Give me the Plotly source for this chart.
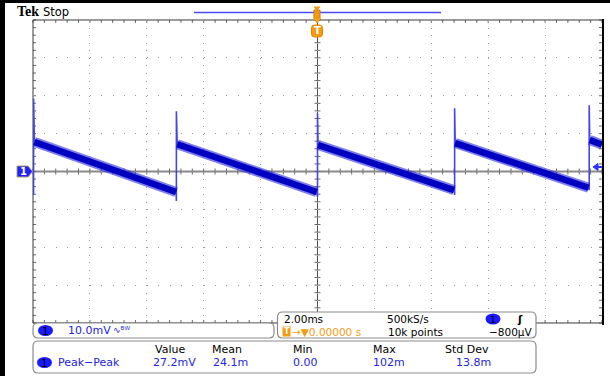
import plotly.graph_objects as go

W, H = 610, 376

# ---------------- data ----------------
# time in ms (2 ms/div, trigger at 0), voltage in mV (10 mV/div)
ramp_start_ms = [-9.95, -4.93, 0.02, 4.84, 9.57]
ramp_start_mV = [7.8, 7.2, 7.0, 7.5, 8.3]
ramp_end_ms = [-4.97, -0.03, 4.80, 9.53, 10.0]
ramp_end_mV = [-5.4, -5.4, -4.9, -4.3, 7.1]
edge_ms = [-9.98, -4.96, 0.0, 4.82, 9.55]
edge_low_mV = [-6.2, -7.8, -6.7, -6.2, -4.9]
edge_high_mV = [19.3, 15.9, 15.4, 16.7, 17.5]
pre_ms, pre_mV = -10.0, -5.5

meas_headers = ["Value", "Mean", "Min", "Max", "Std Dev"]
meas_values = ["27.2mV", "24.1m", "0.00", "102m", "13.8m"]
meas_name = "Peak\u2212Peak"
ch_scale = "10.0mV"
timebase = "2.00ms"
sample_rate = "500kS/s"
trig_pos = "0.00000 s"
rec_len = "10k points"
trig_level = "\u2212800\u00b5V"

# ---------------- geometry ----------------
GL, GR, GT, GB = 33, 602, 20, 323
XMIN, XMAX, YMIN, YMAX = -10, 10, -40, 40


def px(x):
    return x / W


def py(y):
    return 1 - y / H


def X(t):
    return GL + (t - XMIN) / (XMAX - XMIN) * (GR - GL)


def Y(v):
    return GB - (v - YMIN) / (YMAX - YMIN) * (GB - GT)


def path(points_list):
    s = ""
    for pts in points_list:
        s += "M%.5f,%.5f" % (px(pts[0][0]), py(pts[0][1]))
        for (a, b) in pts[1:]:
            s += "L%.5f,%.5f" % (px(a), py(b))
    return s


def rrect(x0, y0, x1, y1, r):
    P = lambda a, b: "%.5f,%.5f" % (px(a), py(b))
    return ("M" + P(x0 + r, y0) + "L" + P(x1 - r, y0) + "Q" + P(x1, y0) + " " + P(x1, y0 + r)
            + "L" + P(x1, y1 - r) + "Q" + P(x1, y1) + " " + P(x1 - r, y1)
            + "L" + P(x0 + r, y1) + "Q" + P(x0, y1) + " " + P(x0, y1 - r)
            + "L" + P(x0, y0 + r) + "Q" + P(x0, y0) + " " + P(x0 + r, y0) + "Z")


# ---------------- traces ----------------
rx, ry = [], []
for a, b, c, d in zip(ramp_start_ms, ramp_start_mV, ramp_end_ms, ramp_end_mV):
    rx += [a, c, None]
    ry += [b, d, None]

ex, ey = [], []
prev_t, prev_v = [pre_ms] + ramp_end_ms[:-1], [pre_mV] + ramp_end_mV[:-1]
for i in range(len(edge_ms)):
    ex += [prev_t[i], edge_ms[i], edge_ms[i], ramp_start_ms[i], None]
    ey += [prev_v[i], edge_low_mV[i], edge_high_mV[i], ramp_start_mV[i], None]

fig = go.Figure()
fig.add_trace(go.Scatter(x=ex, y=ey, mode="lines", line=dict(color="#4646e6", width=1.6),
                         hoverinfo="skip", showlegend=False))
fig.add_trace(go.Scatter(x=rx, y=ry, mode="lines", line=dict(color="rgba(40,40,225,0.6)", width=10),
                         hoverinfo="skip", showlegend=False))
fig.add_trace(go.Scatter(x=rx, y=ry, mode="lines", line=dict(color="#0000c0", width=6.5),
                         hoverinfo="skip", showlegend=False))

shapes = []
# center lines
shapes.append(dict(type="line", xref="paper", yref="paper", x0=px(GL), x1=px(GR), y0=py(Y(0)), y1=py(Y(0)),
                   line=dict(color="#8a8a8a", width=2), layer="below"))
shapes.append(dict(type="line", xref="paper", yref="paper", x0=px(X(0)), x1=px(X(0)), y0=py(GT), y1=py(GB),
                   line=dict(color="#505050", width=1), layer="below"))

# minor ticks
tick_pts = []
nx = 50
for i in range(nx + 1):
    x = GL + i * (GR - GL) / nx
    tick_pts.append([(x, GT), (x, GT + 3)])
    tick_pts.append([(x, GB), (x, GB - 3)])
    tick_pts.append([(x, Y(0) - 3), (x, Y(0) + 3)])
ny = 40
for j in range(ny + 1):
    y = GT + j * (GB - GT) / ny
    tick_pts.append([(GL, y), (GL + 3, y)])
    tick_pts.append([(GR, y), (GR - 3, y)])
    tick_pts.append([(X(0) - 3, y), (X(0) + 3, y)])
shapes.append(dict(type="path", xref="paper", yref="paper", path=path(tick_pts),
                   line=dict(color="#6a6a6a", width=1), layer="below"))

# graticule border
shapes.append(dict(type="path", xref="paper", yref="paper",
                   path=path([[(GL, GB), (GL, GT), (GR, GT)], [(GL, GB), (GR, GB)]]),
                   line=dict(color="#3a3a3a", width=1), layer="below"))
shapes.append(dict(type="line", xref="paper", yref="paper", x0=px(GR + 1), x1=px(GR + 1), y0=py(GT - 1),
                   y1=py(GB + 2), line=dict(color="#000000", width=2), layer="above"))

# black frame bars
shapes.append(dict(type="rect", xref="paper", yref="paper", x0=0, x1=px(5), y0=0, y1=1,
                   fillcolor="#000", line=dict(width=0), layer="above"))
shapes.append(dict(type="rect", xref="paper", yref="paper", x0=0, x1=1, y0=py(3), y1=1,
                   fillcolor="#000", line=dict(width=0), layer="above"))

# record view line
shapes.append(dict(type="line", xref="paper", yref="paper", x0=px(194), x1=px(441), y0=py(12.5), y1=py(12.5),
                   line=dict(color="#4a4aff", width=1.5), layer="above"))
ORANGE = "#f39c12"
# trigger position marker (top)
shapes.append(dict(type="path", xref="paper", yref="paper",
                   path=path([[(314, 7), (320, 7), (317, 10)]]) + "Z",
                   fillcolor=ORANGE, line=dict(color=ORANGE, width=1), layer="above"))
shapes.append(dict(type="rect", xref="paper", yref="paper", x0=px(314), x1=px(320), y0=py(18), y1=py(10),
                   fillcolor=ORANGE, line=dict(color="#d07800", width=1), layer="above"))
shapes.append(dict(type="path", xref="paper", yref="paper",
                   path=path([[(313.5, 18), (320.5, 18), (317, 23)]]) + "Z",
                   fillcolor=ORANGE, line=dict(color=ORANGE, width=1), layer="above"))
# T marker inside graticule
shapes.append(dict(type="path", xref="paper", yref="paper", path=rrect(311.5, 25, 322.5, 37, 3),
                   fillcolor=ORANGE, line=dict(color="#e08a00", width=1), layer="above"))

# channel 1 ground marker (left)
shapes.append(dict(type="path", xref="paper", yref="paper",
                   path=path([[(17, 166), (28, 166), (32.5, 171.5), (28, 177), (17, 177)]]) + "Z",
                   fillcolor="#1f1fff", line=dict(color="#a8a070", width=1), layer="above"))
# trigger level arrow (right)
shapes.append(dict(type="path", xref="paper", yref="paper",
                   path=path([[(593, 167), (598, 163.5), (598, 170.5)]]) + "Z",
                   fillcolor="#3030ff", line=dict(color="#3030ff", width=1), layer="above"))
shapes.append(dict(type="line", xref="paper", yref="paper", x0=px(597), x1=px(602), y0=py(167), y1=py(167),
                   line=dict(color="#3030ff", width=2), layer="above"))

# readout boxes
BOXLINE = dict(color="#8c8c8c", width=1.2)
shapes.append(dict(type="path", xref="paper", yref="paper", path=rrect(33, 323, 274, 338, 5),
                   fillcolor="white", line=BOXLINE, layer="above"))
shapes.append(dict(type="path", xref="paper", yref="paper", path=rrect(277.5, 312, 536, 338, 5),
                   fillcolor="white", line=BOXLINE, layer="above"))
shapes.append(dict(type="path", xref="paper", yref="paper", path=rrect(33, 341, 536, 373, 5),
                   fillcolor="white", line=BOXLINE, layer="above"))

BLUE_PILL = "#1a1aff"
for (cx, cy) in [(45.5, 330.5), (493, 319), (44.5, 362.5)]:
    shapes.append(dict(type="circle", xref="paper", yref="paper", x0=px(cx - 7.5), x1=px(cx + 7.5),
                       y0=py(cy + 5.5), y1=py(cy - 5.5), fillcolor=BLUE_PILL, line=dict(width=0), layer="above"))
# orange T box in trigger position readout
shapes.append(dict(type="rect", xref="paper", yref="paper", x0=px(282.5), x1=px(290.5), y0=py(336.5), y1=py(326.5),
                   fillcolor=ORANGE, line=dict(width=0), layer="above"))

ann = []


def text(x, y, s, color="#000", size=11, family="DejaVu Sans", xanchor="left", bold=False):
    if bold:
        s = "<b>" + s + "</b>"
    ann.append(dict(x=px(x), y=py(y), xref="paper", yref="paper", text=s, showarrow=False,
                    xanchor=xanchor, yanchor="middle", borderpad=0,
                    font=dict(color=color, size=size, family=family)))


BLUE = "#2424e0"
text(16, 12, "Tek", size=14, family="Liberation Serif", bold=True)
text(42, 12.5, "Stop", size=11.5)
text(317, 31, "T", color="white", size=10, xanchor="center", bold=True)
text(23, 171.5, "1", color="white", size=10, xanchor="center", bold=True)

# channel readout
text(45.5, 330.5, "1", color="#000", size=10.5, xanchor="center")
text(67, 330.5, ch_scale, color=BLUE, size=11)
text(112, 329.5, "\u223f\u1d2e\u1d42", color=BLUE, size=9)

# timebase readout (two rows)
R1, R2 = 319, 331.5
text(283, R1, timebase, size=10.5)
text(386, R1, sample_rate, size=10.5)
text(493, R1, "1", color="#000", size=9.5, xanchor="center")
text(516, R1, "\u0283", size=10.5, bold=True)
text(286.5, R2, "T", color="white", size=8, xanchor="center", bold=True)
text(291, R2, "\u2192\u25bc" + trig_pos, color=ORANGE, size=10.5)
text(387, R2, rec_len, size=10.5)
text(534, R2, trig_level, xanchor="right", size=10.5)

# measurement readout
head_x = [170, 227, 303, 384, 467]
val_x = [152, 212, 292, 372, 455]
for hx, hs in zip(head_x, meas_headers):
    text(hx, 349, hs, xanchor="center")
for vx, vs in zip(val_x, meas_values):
    text(vx, 362.5, vs, color=BLUE)
text(44.5, 362.5, "1", color="#000", size=10.5, xanchor="center")
text(57, 362.5, meas_name, color=BLUE)

fig.update_layout(
    width=W, height=H, margin=dict(l=0, r=0, t=0, b=0),
    paper_bgcolor="white", plot_bgcolor="white",
    xaxis=dict(domain=[px(GL), px(GR)], range=[XMIN, XMAX], dtick=2, showgrid=True,
               gridcolor="#9a9a9a", gridwidth=1, griddash="1px,6.575px",
               zeroline=False, showticklabels=False, ticks="", showline=False, fixedrange=True),
    yaxis=dict(domain=[py(GB), py(GT)], range=[YMIN, YMAX], dtick=10, showgrid=True,
               gridcolor="#9a9a9a", gridwidth=1, griddash="1px,10.38px",
               zeroline=False, showticklabels=False, ticks="", showline=False, fixedrange=True),
    shapes=shapes, annotations=ann, showlegend=False, hovermode=False,
)

fig.write_html("out.html", config={"displayModeBar": False},
               post_script="document.body.style.margin='0';document.body.style.overflow='hidden';")
